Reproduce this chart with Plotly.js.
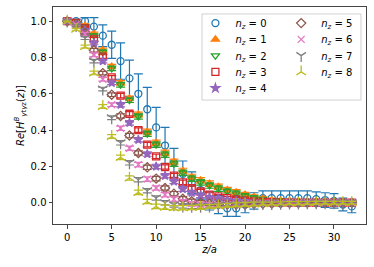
<!DOCTYPE html>
<html>
<head>
<meta charset="utf-8">
<script src="https://cdn.plot.ly/plotly-3.0.1.min.js"></script>
<style>html,body{margin:0;padding:0;background:#fff;}#chart{width:374px;height:267px;}</style>
</head>
<body>
<div id="chart"></div>
<script>
// z/a positions
var zvals = [];
for (var i = 0; i <= 32; i++) zvals.push(i);

var seriesNames = ['0','1','2','3','4','5','6','7','8'];

var nz0 = [1.0,1.0,1.0,0.97,0.92,0.87,0.78,0.685,0.60,0.515,0.415,0.315,0.22,0.16,0.11,0.07,0.01,-0.01,-0.03,-0.03,-0.01,0.01,0.025,0.025,0.025,0.025,0.025,0.025,0.02,0.015,0.01,-0.01,-0.02];
var err0 = [0.0,0.01,0.02,0.05,0.06,0.075,0.1,0.1,0.11,0.12,0.11,0.1,0.08,0.07,0.06,0.05,0.05,0.05,0.045,0.045,0.045,0.045,0.04,0.04,0.04,0.04,0.04,0.04,0.04,0.04,0.04,0.035,0.035];

var nz1 = [1.0,0.99,0.975,0.93,0.84,0.75,0.66,0.575,0.485,0.39,0.33,0.275,0.225,0.175,0.142,0.123,0.105,0.088,0.07,0.058,0.045,0.032,0.022,0.015,0.012,0.01,0.008,0.006,0.005,0.004,0.003,0.002,0.0];
var err1 = [0.0,0.005,0.01,0.01,0.012,0.012,0.013,0.013,0.014,0.015,0.015,0.015,0.015,0.015,0.015,0.015,0.015,0.015,0.015,0.015,0.012,0.012,0.012,0.01,0.01,0.01,0.01,0.01,0.01,0.01,0.01,0.01,0.01];

var nz2 = [1.0,0.99,0.97,0.92,0.83,0.74,0.65,0.565,0.475,0.38,0.32,0.265,0.215,0.165,0.133,0.112,0.095,0.078,0.062,0.05,0.038,0.027,0.018,0.012,0.01,0.008,0.006,0.005,0.004,0.003,0.002,0.001,0.0];
var err2 = err1;

var nz3 = [1.0,0.99,0.96,0.90,0.805,0.69,0.59,0.49,0.40,0.32,0.255,0.197,0.149,0.112,0.08,0.062,0.045,0.035,0.025,0.018,0.012,0.008,0.005,0.003,0.002,0.001,0.0,0.0,0.0,0.0,0.0,0.0,0.0];
var err3 = [0.0,0.005,0.008,0.01,0.01,0.01,0.012,0.012,0.012,0.012,0.012,0.012,0.012,0.012,0.012,0.012,0.01,0.01,0.01,0.01,0.01,0.01,0.008,0.008,0.008,0.008,0.008,0.008,0.008,0.008,0.008,0.008,0.008];

var nz4 = [1.0,0.985,0.95,0.88,0.78,0.66,0.54,0.44,0.347,0.268,0.20,0.149,0.117,0.075,0.055,0.04,0.03,0.022,0.015,0.01,0.006,0.004,0.002,0.001,0.0,0.0,0.0,0.0,0.0,0.0,0.0,0.0,0.0];
var err4 = err3;

var nz5 = [1.0,0.985,0.935,0.84,0.714,0.595,0.478,0.37,0.274,0.195,0.133,0.081,0.05,0.022,0.008,0.0,-0.005,-0.008,-0.01,-0.01,-0.008,-0.006,-0.005,-0.004,-0.003,-0.002,-0.001,0.0,0.0,0.0,0.0,0.0,0.0];
var err5 = err3;

var nz6 = [1.0,0.98,0.93,0.815,0.68,0.54,0.41,0.30,0.21,0.13,0.081,0.044,0.02,0.005,-0.005,-0.01,-0.012,-0.012,-0.01,-0.008,-0.006,-0.004,-0.003,-0.002,-0.001,0.0,0.0,0.0,0.0,0.0,0.0,0.0,0.0];
var err6 = err3;

var nz7 = [1.0,0.975,0.907,0.78,0.626,0.468,0.33,0.22,0.127,0.066,0.026,0.0,-0.012,-0.018,-0.02,-0.02,-0.018,-0.015,-0.012,-0.01,-0.008,-0.006,-0.005,-0.004,-0.003,-0.002,-0.002,-0.001,0.0,0.0,0.0,0.0,0.0];
var err7 = err3;

var nz8 = [1.0,0.955,0.86,0.715,0.53,0.365,0.25,0.136,0.057,0.007,-0.02,-0.025,-0.028,-0.028,-0.026,-0.024,-0.02,-0.017,-0.014,-0.011,-0.009,-0.007,-0.005,-0.004,-0.003,-0.002,-0.002,-0.001,0.0,0.0,0.0,0.0,0.0];
var err8 = err3;

var xTicks = [0,5,10,15,20,25,30];
var yTicks = [0.0,0.2,0.4,0.6,0.8,1.0];

var values = [nz0,nz1,nz2,nz3,nz4,nz5,nz6,nz7,nz8];
var errors = [err0,err1,err2,err3,err4,err5,err6,err7,err8];
var colors = ['#1f77b4','#ff7f0e','#2ca02c','#d62728','#9467bd','#8c564b','#e377c2','#7f7f7f','#bcbd22'];
var symbols = ['circle-open','triangle-up','triangle-down-open','square-open','star','diamond-open','x-thin-open','y-down-open','y-up-open'];
var sizes = [7,7,7,7,6.5,7,7,8,8];

function legendId(i) { return i === 0 ? 'legend' : 'legend' + (i + 1); }

var traces = values.map(function(v, i) {
  return {
    type: 'scatter', mode: 'markers',
    x: zvals, y: v,
    name: '<i>n</i><sub><i>z</i></sub> = ' + seriesNames[i],
    legend: legendId(i),
    marker: {symbol: symbols[i], size: sizes[i], color: colors[i],
             line: {color: colors[i], width: 1.3}},
    error_y: {type: 'data', array: errors[i], visible: true, color: colors[i], thickness: 1.2, width: 4.5},
    showlegend: true
  };
});

var layout = {
  width: 374, height: 267,
  margin: {l: 53, r: 8, t: 7, b: 43},
  paper_bgcolor: '#fff', plot_bgcolor: '#fff',
  font: {family: 'DejaVu Sans', size: 10, color: '#000'},
  xaxis: {
    range: [-1.6, 33.6], tickvals: xTicks, ticks: 'outside', ticklen: 3.5, tickwidth: 1, tickcolor: '#444',
    showline: true, mirror: true, linecolor: '#444', linewidth: 1, showgrid: false, zeroline: false,
    tickfont: {family: 'DejaVu Sans', size: 10, color: '#000'},
    title: {text: '<i>z/a</i>', font: {family: 'DejaVu Sans', size: 10}, standoff: 4}
  },
  yaxis: {
    range: [-0.117, 1.078], tickvals: yTicks, tickformat: '.1f', ticks: 'outside', ticklen: 3.5, tickwidth: 1, tickcolor: '#444',
    showline: true, mirror: true, linecolor: '#444', linewidth: 1, showgrid: false, zeroline: false,
    tickfont: {family: 'DejaVu Sans', size: 10, color: '#000'},
    title: {text: '<i>Re</i>[<i>H</i><sup><i>B</i></sup><sub><i>γ</i>t<i>γ</i>z</sub>(<i>z</i>)]', font: {family: 'DejaVu Sans', size: 10}, standoff: 4}
  },
  shapes: [{
    type: 'rect', xref: 'paper', yref: 'paper', layer: 'above',
    x0: 0.476, x1: 0.984, y0: 0.571, y1: 0.968,
    line: {color: '#d0d0d0', width: 1}, fillcolor: 'rgba(255,255,255,0.8)'
  }],
  showlegend: true
};

for (var k = 0; k < 9; k++) {
  var col = k < 5 ? 0 : 1;
  var row = k < 5 ? k : k - 5;
  var topPx = 8.6 + 16.25 * row;
  layout[legendId(k)] = {
    orientation: 'v', xanchor: 'left', yanchor: 'top',
    x: col === 0 ? 0.455 : 0.729,
    y: (224 - topPx) / 217,
    bgcolor: 'rgba(0,0,0,0)', borderwidth: 0,
    font: {family: 'DejaVu Sans', size: 10, color: '#000'}
  };
}

Plotly.newPlot('chart', traces, layout, {displayModeBar: false, staticPlot: true});
</script>
</body>
</html>
